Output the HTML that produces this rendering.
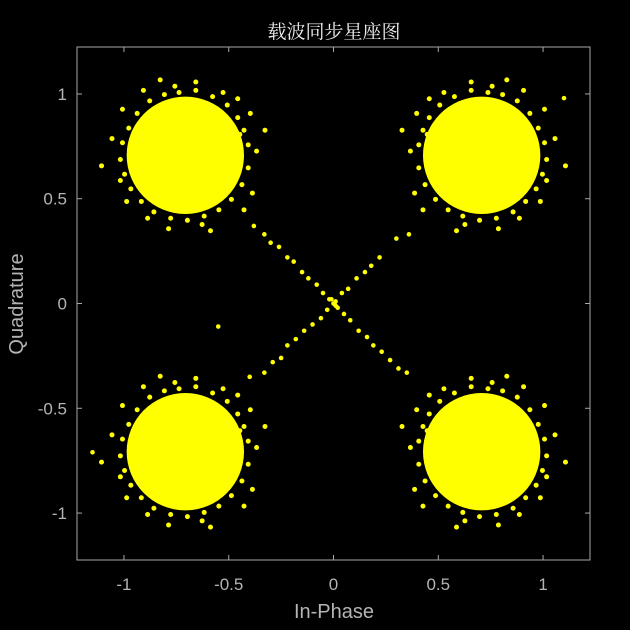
<!DOCTYPE html>
<html><head><meta charset="utf-8"><style>
html,body{margin:0;padding:0;background:#000;}
svg{display:block;}
text{font-family:"Liberation Sans",Arial,sans-serif;}
</style></head><body>
<svg id="chart" width="630" height="630" viewBox="0 0 630 630">
<rect x="0" y="0" width="630" height="630" fill="#000"/>
<text x="334" y="38" text-anchor="middle" font-size="19" fill="#f0f0f0" style="font-family:'Liberation Serif','Noto Serif CJK SC',serif">载波同步星座图</text>
<g id="marks"></g>
<g id="axes"></g>
<text x="334" y="618" text-anchor="middle" font-size="20" fill="#b4b4b4">In-Phase</text>
<text transform="translate(23,304) rotate(-90)" text-anchor="middle" font-size="20" fill="#b4b4b4">Quadrature</text>
</svg>
<script>
const centersI = [-0.707, 0.707, -0.707, 0.707];
const centersQ = [0.707, 0.707, -0.707, -0.707];
const coreRadius = [0.28, 0.28, 0.28, 0.28];
const edgeDI = [0.30,0.28,0.25,0.20,0.13,0.05,-0.03,-0.10,-0.17,-0.23,-0.27,-0.30,-0.31,-0.29,-0.26,-0.21,-0.15,-0.07,0.01,0.09,0.16,0.22,0.27,0.30,0.34,-0.35,0.05,-0.08,0.25,-0.28,0.32,-0.20,0.38,-0.40,0.12,-0.12,0.28,-0.30,0.18,-0.18,0.26,-0.26,0.31,-0.31,0.08,-0.05];
const edgeDQ = [0.05,0.12,0.18,0.24,0.28,0.31,0.30,0.29,0.26,0.20,0.13,0.06,-0.02,-0.09,-0.16,-0.22,-0.27,-0.30,-0.31,-0.29,-0.26,-0.21,-0.14,-0.06,0.02,0.08,0.35,-0.35,0.27,-0.22,-0.18,0.31,0.12,-0.05,-0.36,0.36,-0.26,0.22,0.30,-0.30,0.10,-0.04,0.20,-0.12,-0.33,0.33];
const extraI = [-0.38,-0.33,-0.30,-0.26,-0.22,-0.19,-0.15,-0.12,-0.08,-0.05,-0.02,0.02,0.05,0.08,0.12,0.16,0.19,0.23,0.27,0.31,0.35,-0.40,-0.33,-0.29,-0.25,-0.22,-0.18,-0.14,-0.10,-0.06,-0.03,0.01,0.04,0.07,0.11,0.15,0.18,0.22,0.30,0.36,-0.55,1.10,-1.15,0.0,-0.01,0.01];
const extraQ = [0.37,0.33,0.29,0.27,0.22,0.20,0.15,0.12,0.09,0.05,0.02,-0.02,-0.05,-0.08,-0.13,-0.16,-0.20,-0.23,-0.27,-0.31,-0.33,-0.35,-0.33,-0.28,-0.26,-0.20,-0.17,-0.13,-0.10,-0.07,-0.03,0.01,0.05,0.07,0.12,0.15,0.18,0.22,0.31,0.33,-0.11,0.98,-0.71,0.0,0.02,-0.01];
const xTicks = [-1, -0.5, 0, 0.5, 1];
const yTicks = [-1, -0.5, 0, 0.5, 1];
const xTickLabels = ["-1", "-0.5", "0", "0.5", "1"];
const yTickLabels = ["-1", "-0.5", "0", "0.5", "1"];

const L = 77, R = 590, T = 47, B = 560;
const xMin = -1.224, xMax = 1.224, yMin = -1.224, yMax = 1.224;
function sx(v){ return L + (v - xMin) / (xMax - xMin) * (R - L); }
function sy(v){ return B - (v - yMin) / (yMax - yMin) * (B - T); }
const NS = "http://www.w3.org/2000/svg";
const marks = document.getElementById('marks');
const axes = document.getElementById('axes');
const Y = "#ffff00";
const EDGE_SCALE = 1.0;

for (let c = 0; c < centersI.length; c++) {
  const core = document.createElementNS(NS, 'ellipse');
  core.setAttribute('cx', sx(centersI[c]));
  core.setAttribute('cy', sy(centersQ[c]));
  core.setAttribute('rx', sx(coreRadius[c]) - sx(0));
  core.setAttribute('ry', sy(0) - sy(coreRadius[c]));
  core.setAttribute('fill', Y);
  
  
  marks.appendChild(core);
  for (let k = 0; k < edgeDI.length; k++) {
    const s = (c % 2 === 0) ? 1 : -1;
    const p = document.createElementNS(NS, 'circle');
    p.setAttribute('cx', sx(centersI[c] + s * edgeDI[k] * EDGE_SCALE));
    p.setAttribute('cy', sy(centersQ[c] + edgeDQ[k] * EDGE_SCALE));
    p.setAttribute('r', 2.5);
    p.setAttribute('fill', Y);
    
    
    marks.appendChild(p);
  }
}
for (let k = 0; k < extraI.length; k++) {
  const p = document.createElementNS(NS, 'circle');
  p.setAttribute('cx', sx(extraI[k]));
  p.setAttribute('cy', sy(extraQ[k]));
  p.setAttribute('r', 2.3);
  p.setAttribute('fill', Y);
  
  
  marks.appendChild(p);
}

const box = document.createElementNS(NS, 'rect');
box.setAttribute('x', L); box.setAttribute('y', T);
box.setAttribute('width', R - L); box.setAttribute('height', B - T);
box.setAttribute('fill', 'none'); box.setAttribute('stroke', '#a8a8a8'); box.setAttribute('stroke-width', 1);


axes.appendChild(box);

function line(x1,y1,x2,y2,name){
  const l = document.createElementNS(NS, 'line');
  l.setAttribute('x1',x1); l.setAttribute('y1',y1); l.setAttribute('x2',x2); l.setAttribute('y2',y2);
  l.setAttribute('stroke','#a8a8a8'); l.setAttribute('stroke-width',1);
  
  
  axes.appendChild(l);
}
xTicks.forEach((v,i) => {
  const x = sx(v);
  line(x,B,x,B-5,'x-tick');
  line(x,T,x,T+5,'x-tick-top');
  const t = document.createElementNS(NS, 'text');
  t.setAttribute('x', x); t.setAttribute('y', B + 30);
  t.setAttribute('text-anchor','middle'); t.setAttribute('font-size','17'); t.setAttribute('fill','#b4b4b4');
  t.textContent = xTickLabels[i];
  
  
  axes.appendChild(t);
});
yTicks.forEach((v,i) => {
  const y = sy(v);
  line(L,y,L+5,y,'y-tick');
  line(R,y,R-5,y,'y-tick-right');
  const t = document.createElementNS(NS, 'text');
  t.setAttribute('x', L - 10); t.setAttribute('y', y + 6);
  t.setAttribute('text-anchor','end'); t.setAttribute('font-size','17'); t.setAttribute('fill','#b4b4b4');
  t.textContent = yTickLabels[i];
  
  
  axes.appendChild(t);
});
</script>
</body></html>
